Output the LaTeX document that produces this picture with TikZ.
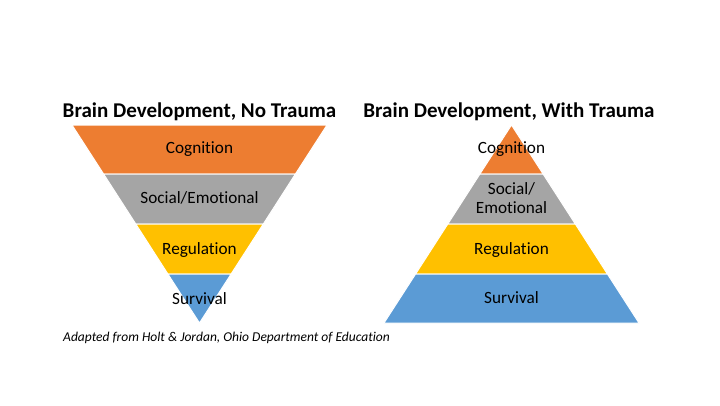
\documentclass[tikz,border=0pt]{standalone}
\usepackage{fontspec}
\setmainfont[Ligatures=NoCommon]{Carlito}
\usepackage{tikz}
\definecolor{cogorange}{HTML}{ED7D31}
\definecolor{socgray}{HTML}{A5A5A5}
\definecolor{reggold}{HTML}{FFC000}
\definecolor{survblue}{HTML}{5B9BD5}
\begin{document}
\begin{tikzpicture}[x=1pt, y=-1pt,
			band/.style={draw=white, line width=1pt},
			lab/.style={anchor=base, inner sep=0pt, font=\fontsize{17.2}{19}\selectfont},
			titel/.style={anchor=base, inner sep=0pt, font=\fontsize{21}{24}\selectfont\bfseries}]
			\useasboundingbox[fill=white] (0,0) rectangle (720,405);
			% linkes Dreieck (ohne Trauma)
			\filldraw[band, fill=cogorange] (72,125) -- (327,125) -- (295.4,174) -- (103.6,174) -- cycle;
			\filldraw[band, fill=socgray] (103.6,174) -- (295.4,174) -- (263.3,224) -- (135.8,224) -- cycle;
			\filldraw[band, fill=reggold] (135.8,224) -- (263.3,224) -- (231.1,274) -- (167.9,274) -- cycle;
			\filldraw[band, fill=survblue] (167.9,274) -- (231.1,274) -- (199.5,323) -- cycle;
			\node[titel] (titleL) at (199.5,117) {Brain Development, No Trauma};
			\node[lab] (cogL) at (199.5,153) {Cognition};
			\node[lab] (socL) at (199.5,203) {Social/Emotional};
			\node[lab] (regL) at (199.5,254) {Regulation};
			\node[lab] (survL) at (199.5,304) {Survival};
			% rechtes Dreieck (mit Trauma)
			\filldraw[band, fill=cogorange] (511.5,125) -- (543.1,174) -- (479.9,174) -- cycle;
			\filldraw[band, fill=socgray] (479.9,174) -- (543.1,174) -- (575.3,224) -- (447.8,224) -- cycle;
			\filldraw[band, fill=reggold] (447.8,224) -- (575.3,224) -- (607.4,274) -- (415.6,274) -- cycle;
			\filldraw[band, fill=survblue] (415.6,274) -- (607.4,274) -- (639,323) -- (384,323) -- cycle;
			\node[titel] (titleR) at (509,117) {Brain Development, With Trauma};
			\node[lab] (cogR) at (511.5,153) {Cognition};
			\node[lab, anchor=center, align=center] (socR) at (511.5,198) {Social/\\Emotional};
			\node[lab] (regR) at (511.5,254) {Regulation};
			\node[lab] (survR) at (511.5,303) {Survival};
			% Quelle
			\node[anchor=base west, inner sep=0pt, font=\fontsize{13.5}{15}\selectfont\itshape] (quelle) at (63,341) {Adapted from Holt \& Jordan, Ohio Department of Education};
		\end{tikzpicture}
\end{document}
